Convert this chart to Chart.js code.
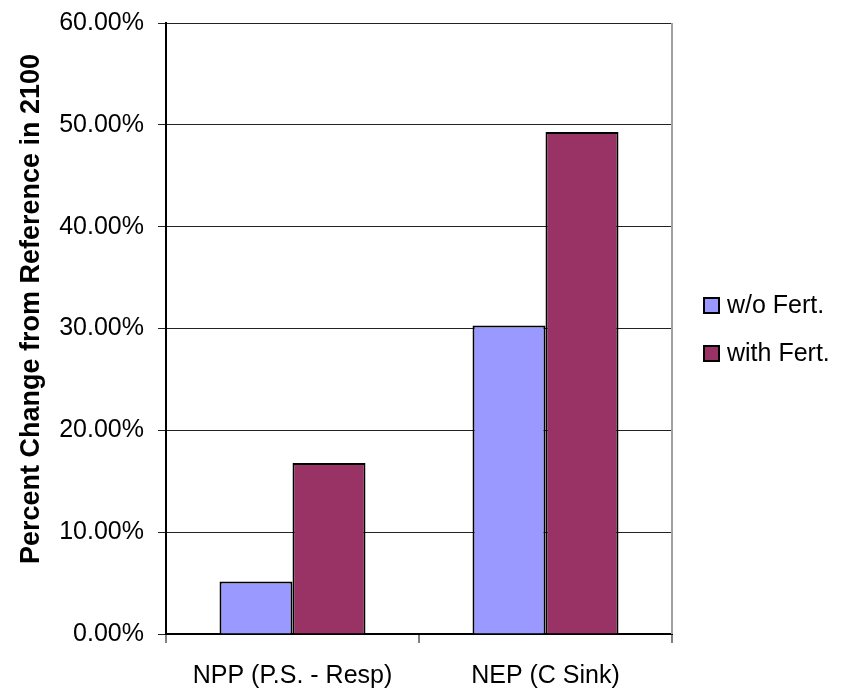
<!DOCTYPE html>
<html>
<head>
<meta charset="utf-8">
<script src="https://cdn.jsdelivr.net/npm/chart.js@4.4.1/dist/chart.umd.min.js"></script>
<style>
  body { margin: 0; background: #fff; }
</style>
</head>
<body>
<canvas id="grafico" width="842" height="694"></canvas>
<script>
// categorias e séries (fração, 0.10 = 10%)
const categorias = ['NPP (P.S. - Resp)', 'NEP (C Sink)'];
const semFert = [0.0515, 0.303];
const comFert = [0.168, 0.493];
const rotulos = ['w/o Fert.', 'with Fert.'];
const tituloY = 'Percent Change from Reference in 2100';

const fonte = "'Liberation Sans', Arial, sans-serif";

// título do eixo Y, legenda e borda direita desenhados à mão
const extras = {
    id: 'extras',
    afterDraw(chart) {
        const ctx = chart.ctx;
        const area = chart.chartArea;

        ctx.save();
        ctx.strokeStyle = '#a0a0a0';
        ctx.lineWidth = 2;
        ctx.beginPath();
        ctx.moveTo(area.right, area.top);
        ctx.lineTo(area.right, area.bottom);
        ctx.stroke();
        ctx.restore();

        ctx.save();
        ctx.translate(32, 309);
        ctx.rotate(-Math.PI / 2);
        ctx.font = "bold 27px " + fonte;
        ctx.fillStyle = '#000';
        ctx.textAlign = 'center';
        ctx.textBaseline = 'middle';
        ctx.fillText(tituloY, 0, 0);
        ctx.restore();

        const ds = chart.data.datasets;
        for (let i = 0; i < ds.length; i++) {
            const y = 305 + i * 48;
            ctx.save();
            ctx.fillStyle = ds[i].backgroundColor;
            ctx.fillRect(704, y - 7, 15, 15);
            ctx.strokeStyle = '#000';
            ctx.lineWidth = 2;
            ctx.strokeRect(704, y - 7, 15, 15);
            ctx.font = "25px " + fonte;
            ctx.fillStyle = '#000';
            ctx.textBaseline = 'middle';
            ctx.fillText(ds[i].label, 727, y + 1);
            ctx.restore();
        }
    }
};

window.onload = () => {
    new Chart(document.getElementById('grafico'), {
        type: 'bar',
        data: {
            labels: categorias,
            datasets: [
                {
                    label: rotulos[0],
                    data: semFert,
                    backgroundColor: '#9999ff',
                    borderColor: '#000',
                    borderWidth: 2,
                    barPercentage: 1,
                    categoryPercentage: 0.577
                },
                {
                    label: rotulos[1],
                    data: comFert,
                    backgroundColor: '#993366',
                    borderColor: '#000',
                    borderWidth: 2,
                    barPercentage: 1,
                    categoryPercentage: 0.577
                }
            ]
        },
        options: {
            responsive: false,
            animation: false,
            layout: {
                padding: { top: 23, right: 170, left: 0, bottom: 0 }
            },
            plugins: {
                legend: { display: false },
                title: { display: false },
                tooltip: { enabled: false }
            },
            scales: {
                x: {
                    ticks: {
                        color: '#000',
                        font: { family: fonte, size: 25 },
                        padding: 18
                    },
                    grid: {
                        offset: true,
                        drawOnChartArea: false,
                        drawTicks: true,
                        tickLength: 9,
                        color: '#808080',
                        lineWidth: 2
                    },
                    border: { color: '#000', width: 2 },
                    afterFit: (s) => { s.height = 60; }
                },
                y: {
                    min: 0,
                    max: 0.6,
                    ticks: {
                        stepSize: 0.1,
                        color: '#000',
                        font: { family: fonte, size: 25 },
                        padding: 14,
                        callback: (v) => (v * 100).toFixed(2) + '%'
                    },
                    grid: {
                        color: '#222',
                        lineWidth: 1,
                        tickLength: 8
                    },
                    border: { color: '#000', width: 2 },
                    afterFit: (s) => {
                        s.width = 166;
                        s.paddingTop = 0;
                        s.paddingBottom = 0;
                    }
                }
            }
        },
        plugins: [extras]
    });
};
</script>
</body>
</html>
